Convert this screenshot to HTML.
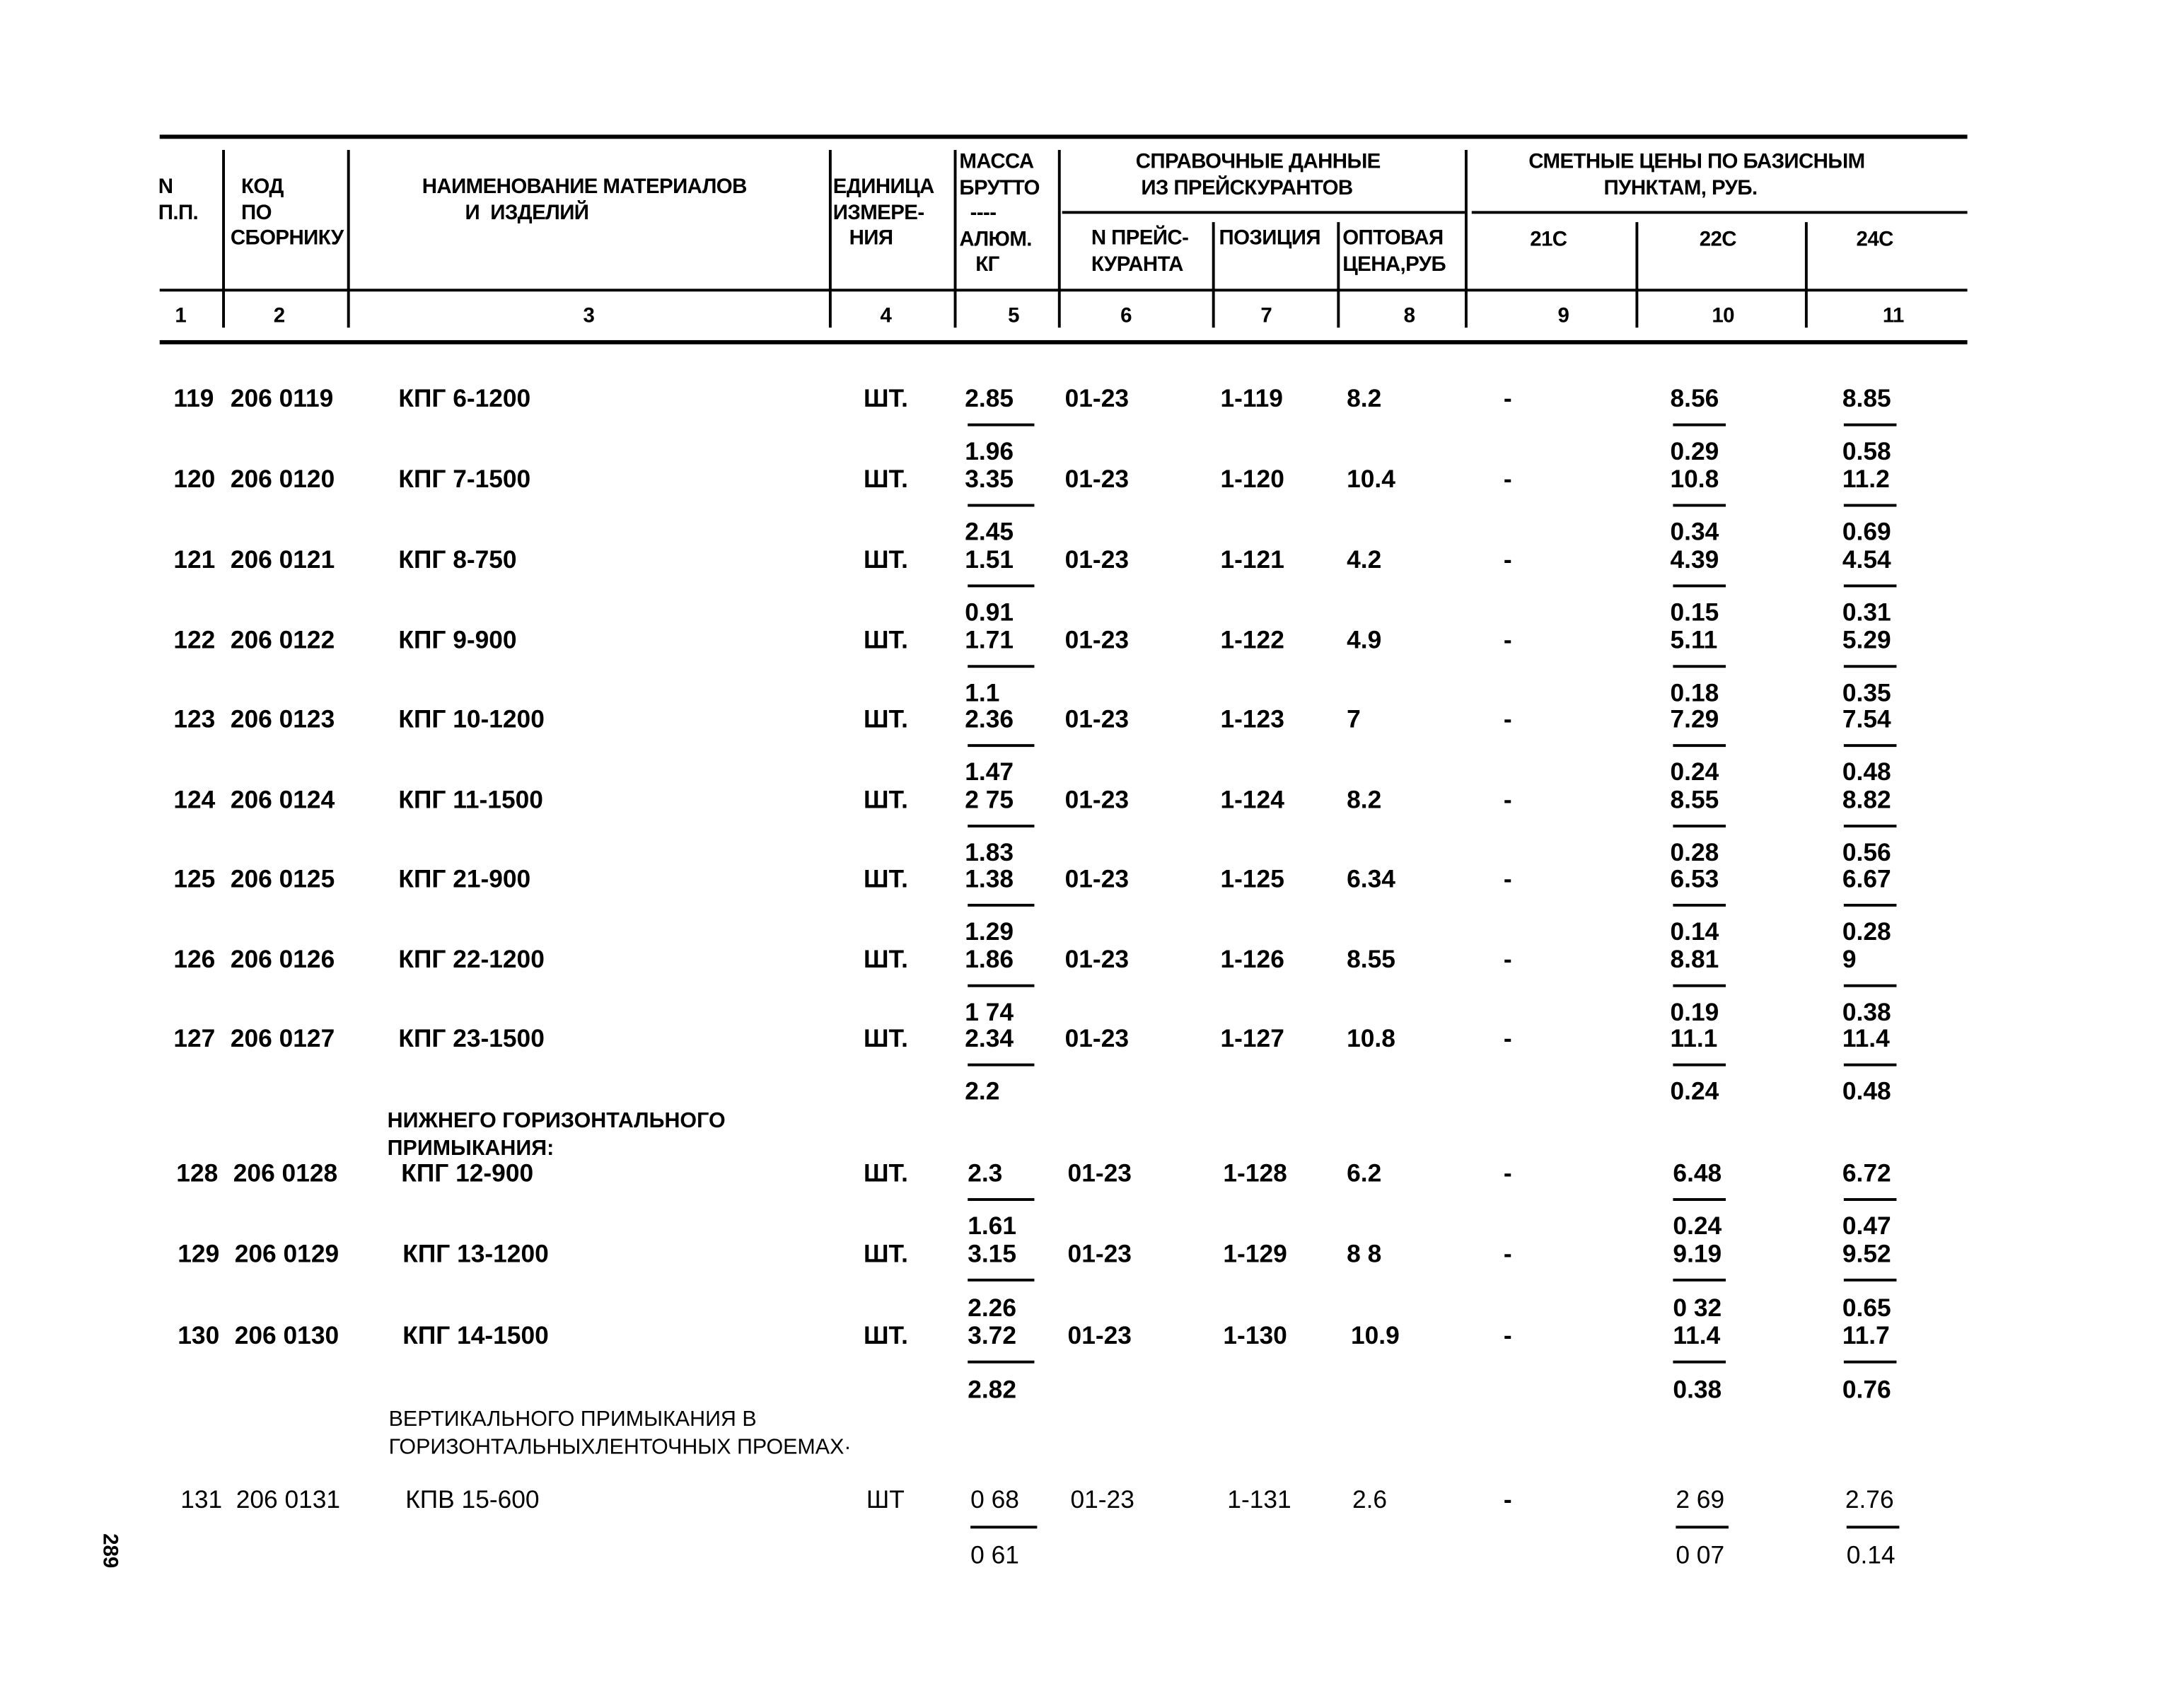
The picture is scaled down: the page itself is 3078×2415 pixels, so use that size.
<!DOCTYPE html>
<html><head><meta charset="utf-8"><style>
html,body{margin:0;padding:0;background:#fff;}
#w{position:relative;width:1570px;height:1230px;transform:scale(1.963);transform-origin:0 0;font-family:"Liberation Sans","DejaVu Sans",sans-serif;font-weight:bold;color:#000;}
.t{position:absolute;white-space:pre;font-size:18px;line-height:18px;}
.n{font-weight:normal;}
.h{position:absolute;white-space:pre;font-size:15px;line-height:18.5px;letter-spacing:-0.3px;}
.hl{position:absolute;height:2px;background:#000;}
.vl{position:absolute;width:2px;background:#000;}
.d{position:absolute;height:2px;background:#000;}
</style></head><body><div id="w">
<div class="hl" style="left:115px;top:97px;width:1302px;height:3px"></div>
<div class="hl" style="left:765px;top:152px;width:290px"></div>
<div class="hl" style="left:1060px;top:152px;width:357px"></div>
<div class="hl" style="left:115px;top:208px;width:1302px"></div>
<div class="hl" style="left:115px;top:245px;width:1302px;height:3px"></div>
<div class="vl" style="left:160px;top:108px;height:128px"></div>
<div class="vl" style="left:250px;top:108px;height:128px"></div>
<div class="vl" style="left:597px;top:108px;height:128px"></div>
<div class="vl" style="left:687px;top:108px;height:128px"></div>
<div class="vl" style="left:762px;top:108px;height:128px"></div>
<div class="vl" style="left:873px;top:160px;height:76px"></div>
<div class="vl" style="left:963px;top:160px;height:76px"></div>
<div class="vl" style="left:1055px;top:108px;height:128px"></div>
<div class="vl" style="left:1178px;top:160px;height:76px"></div>
<div class="vl" style="left:1300px;top:160px;height:76px"></div>
<div class="h" style="left:114px;top:126px">N<br>П.П.</div>
<div class="h" style="left:166px;top:126px">  КОД<br>  ПО<br>СБОРНИКУ</div>
<div class="h" style="left:304px;top:126px">НАИМЕНОВАНИЕ МАТЕРИАЛОВ<br>        И  ИЗДЕЛИЙ</div>
<div class="h" style="left:600px;top:126px">ЕДИНИЦА<br>ИЗМЕРЕ-<br>   НИЯ</div>
<div class="h" style="left:691px;top:108px">МАССА<br>БРУТТО<br>  ----<br>АЛЮМ.<br>   КГ</div>
<div class="h" style="left:818px;top:108px">СПРАВОЧНЫЕ ДАННЫЕ<br> ИЗ ПРЕЙСКУРАНТОВ</div>
<div class="h" style="left:786px;top:163px">N ПРЕЙС-<br>КУРАНТА</div>
<div class="h" style="left:878px;top:163px">ПОЗИЦИЯ</div>
<div class="h" style="left:967px;top:163px">ОПТОВАЯ<br>ЦЕНА,РУБ</div>
<div class="h" style="left:1101px;top:108px">СМЕТНЫЕ ЦЕНЫ ПО БАЗИСНЫМ<br>              ПУНКТАМ, РУБ.</div>
<div class="h" style="left:1102px;top:164px">21С</div>
<div class="h" style="left:1224px;top:164px">22С</div>
<div class="h" style="left:1337px;top:164px">24С</div>
<div class="h" style="left:126px;top:219px">1</div><div class="h" style="left:197px;top:219px">2</div><div class="h" style="left:420px;top:219px">3</div><div class="h" style="left:634px;top:219px">4</div><div class="h" style="left:726px;top:219px">5</div><div class="h" style="left:807px;top:219px">6</div><div class="h" style="left:908px;top:219px">7</div><div class="h" style="left:1011px;top:219px">8</div><div class="h" style="left:1122px;top:219px">9</div><div class="h" style="left:1233px;top:219px">10</div><div class="h" style="left:1356px;top:219px">11</div>

<div class="t" style="left:125px;top:278px">119</div><div class="t" style="left:166px;top:278px">206 0119</div><div class="t" style="left:287px;top:278px">КПГ 6-1200</div><div class="t" style="left:622px;top:278px">ШТ.</div><div class="t" style="left:695px;top:278px">2.85</div><div class="t" style="left:767px;top:278px">01-23</div><div class="t" style="left:879px;top:278px">1-119</div><div class="t" style="left:970px;top:278px">8.2</div><div class="t" style="left:1083px;top:278px">-</div><div class="t" style="left:1203px;top:278px">8.56</div><div class="t" style="left:1327px;top:278px">8.85</div>
<div class="d" style="left:697px;top:305px;width:48px"></div><div class="d" style="left:1205px;top:305px;width:38px"></div><div class="d" style="left:1328px;top:305px;width:38px"></div>
<div class="t" style="left:695px;top:316px">1.96</div><div class="t" style="left:1203px;top:316px">0.29</div><div class="t" style="left:1327px;top:316px">0.58</div>

<div class="t" style="left:125px;top:336px">120</div><div class="t" style="left:166px;top:336px">206 0120</div><div class="t" style="left:287px;top:336px">КПГ 7-1500</div><div class="t" style="left:622px;top:336px">ШТ.</div><div class="t" style="left:695px;top:336px">3.35</div><div class="t" style="left:767px;top:336px">01-23</div><div class="t" style="left:879px;top:336px">1-120</div><div class="t" style="left:970px;top:336px">10.4</div><div class="t" style="left:1083px;top:336px">-</div><div class="t" style="left:1203px;top:336px">10.8</div><div class="t" style="left:1327px;top:336px">11.2</div>
<div class="d" style="left:697px;top:363px;width:48px"></div><div class="d" style="left:1205px;top:363px;width:38px"></div><div class="d" style="left:1328px;top:363px;width:38px"></div>
<div class="t" style="left:695px;top:374px">2.45</div><div class="t" style="left:1203px;top:374px">0.34</div><div class="t" style="left:1327px;top:374px">0.69</div>

<div class="t" style="left:125px;top:394px">121</div><div class="t" style="left:166px;top:394px">206 0121</div><div class="t" style="left:287px;top:394px">КПГ 8-750</div><div class="t" style="left:622px;top:394px">ШТ.</div><div class="t" style="left:695px;top:394px">1.51</div><div class="t" style="left:767px;top:394px">01-23</div><div class="t" style="left:879px;top:394px">1-121</div><div class="t" style="left:970px;top:394px">4.2</div><div class="t" style="left:1083px;top:394px">-</div><div class="t" style="left:1203px;top:394px">4.39</div><div class="t" style="left:1327px;top:394px">4.54</div>
<div class="d" style="left:697px;top:421px;width:48px"></div><div class="d" style="left:1205px;top:421px;width:38px"></div><div class="d" style="left:1328px;top:421px;width:38px"></div>
<div class="t" style="left:695px;top:432px">0.91</div><div class="t" style="left:1203px;top:432px">0.15</div><div class="t" style="left:1327px;top:432px">0.31</div>

<div class="t" style="left:125px;top:452px">122</div><div class="t" style="left:166px;top:452px">206 0122</div><div class="t" style="left:287px;top:452px">КПГ 9-900</div><div class="t" style="left:622px;top:452px">ШТ.</div><div class="t" style="left:695px;top:452px">1.71</div><div class="t" style="left:767px;top:452px">01-23</div><div class="t" style="left:879px;top:452px">1-122</div><div class="t" style="left:970px;top:452px">4.9</div><div class="t" style="left:1083px;top:452px">-</div><div class="t" style="left:1203px;top:452px">5.11</div><div class="t" style="left:1327px;top:452px">5.29</div>
<div class="d" style="left:697px;top:479px;width:48px"></div><div class="d" style="left:1205px;top:479px;width:38px"></div><div class="d" style="left:1328px;top:479px;width:38px"></div>
<div class="t" style="left:695px;top:490px">1.1</div><div class="t" style="left:1203px;top:490px">0.18</div><div class="t" style="left:1327px;top:490px">0.35</div>

<div class="t" style="left:125px;top:509px">123</div><div class="t" style="left:166px;top:509px">206 0123</div><div class="t" style="left:287px;top:509px">КПГ 10-1200</div><div class="t" style="left:622px;top:509px">ШТ.</div><div class="t" style="left:695px;top:509px">2.36</div><div class="t" style="left:767px;top:509px">01-23</div><div class="t" style="left:879px;top:509px">1-123</div><div class="t" style="left:970px;top:509px">7</div><div class="t" style="left:1083px;top:509px">-</div><div class="t" style="left:1203px;top:509px">7.29</div><div class="t" style="left:1327px;top:509px">7.54</div>
<div class="d" style="left:697px;top:536px;width:48px"></div><div class="d" style="left:1205px;top:536px;width:38px"></div><div class="d" style="left:1328px;top:536px;width:38px"></div>
<div class="t" style="left:695px;top:547px">1.47</div><div class="t" style="left:1203px;top:547px">0.24</div><div class="t" style="left:1327px;top:547px">0.48</div>

<div class="t" style="left:125px;top:567px">124</div><div class="t" style="left:166px;top:567px">206 0124</div><div class="t" style="left:287px;top:567px">КПГ 11-1500</div><div class="t" style="left:622px;top:567px">ШТ.</div><div class="t" style="left:695px;top:567px">2 75</div><div class="t" style="left:767px;top:567px">01-23</div><div class="t" style="left:879px;top:567px">1-124</div><div class="t" style="left:970px;top:567px">8.2</div><div class="t" style="left:1083px;top:567px">-</div><div class="t" style="left:1203px;top:567px">8.55</div><div class="t" style="left:1327px;top:567px">8.82</div>
<div class="d" style="left:697px;top:594px;width:48px"></div><div class="d" style="left:1205px;top:594px;width:38px"></div><div class="d" style="left:1328px;top:594px;width:38px"></div>
<div class="t" style="left:695px;top:605px">1.83</div><div class="t" style="left:1203px;top:605px">0.28</div><div class="t" style="left:1327px;top:605px">0.56</div>

<div class="t" style="left:125px;top:624px">125</div><div class="t" style="left:166px;top:624px">206 0125</div><div class="t" style="left:287px;top:624px">КПГ 21-900</div><div class="t" style="left:622px;top:624px">ШТ.</div><div class="t" style="left:695px;top:624px">1.38</div><div class="t" style="left:767px;top:624px">01-23</div><div class="t" style="left:879px;top:624px">1-125</div><div class="t" style="left:970px;top:624px">6.34</div><div class="t" style="left:1083px;top:624px">-</div><div class="t" style="left:1203px;top:624px">6.53</div><div class="t" style="left:1327px;top:624px">6.67</div>
<div class="d" style="left:697px;top:651px;width:48px"></div><div class="d" style="left:1205px;top:651px;width:38px"></div><div class="d" style="left:1328px;top:651px;width:38px"></div>
<div class="t" style="left:695px;top:662px">1.29</div><div class="t" style="left:1203px;top:662px">0.14</div><div class="t" style="left:1327px;top:662px">0.28</div>

<div class="t" style="left:125px;top:682px">126</div><div class="t" style="left:166px;top:682px">206 0126</div><div class="t" style="left:287px;top:682px">КПГ 22-1200</div><div class="t" style="left:622px;top:682px">ШТ.</div><div class="t" style="left:695px;top:682px">1.86</div><div class="t" style="left:767px;top:682px">01-23</div><div class="t" style="left:879px;top:682px">1-126</div><div class="t" style="left:970px;top:682px">8.55</div><div class="t" style="left:1083px;top:682px">-</div><div class="t" style="left:1203px;top:682px">8.81</div><div class="t" style="left:1327px;top:682px">9</div>
<div class="d" style="left:697px;top:709px;width:48px"></div><div class="d" style="left:1205px;top:709px;width:38px"></div><div class="d" style="left:1328px;top:709px;width:38px"></div>
<div class="t" style="left:695px;top:720px">1 74</div><div class="t" style="left:1203px;top:720px">0.19</div><div class="t" style="left:1327px;top:720px">0.38</div>

<div class="t" style="left:125px;top:739px">127</div><div class="t" style="left:166px;top:739px">206 0127</div><div class="t" style="left:287px;top:739px">КПГ 23-1500</div><div class="t" style="left:622px;top:739px">ШТ.</div><div class="t" style="left:695px;top:739px">2.34</div><div class="t" style="left:767px;top:739px">01-23</div><div class="t" style="left:879px;top:739px">1-127</div><div class="t" style="left:970px;top:739px">10.8</div><div class="t" style="left:1083px;top:739px">-</div><div class="t" style="left:1203px;top:739px">11.1</div><div class="t" style="left:1327px;top:739px">11.4</div>
<div class="d" style="left:697px;top:766px;width:48px"></div><div class="d" style="left:1205px;top:766px;width:38px"></div><div class="d" style="left:1328px;top:766px;width:38px"></div>
<div class="t" style="left:695px;top:777px">2.2</div><div class="t" style="left:1203px;top:777px">0.24</div><div class="t" style="left:1327px;top:777px">0.48</div>

<div class="t" style="left:279px;top:798px;line-height:20px;font-size:15.5px">НИЖНЕГО ГОРИЗОНТАЛЬНОГО<br>ПРИМЫКАНИЯ:</div>

<div class="t" style="left:127px;top:836px">128</div><div class="t" style="left:168px;top:836px">206 0128</div><div class="t" style="left:289px;top:836px">КПГ 12-900</div><div class="t" style="left:622px;top:836px">ШТ.</div><div class="t" style="left:697px;top:836px">2.3</div><div class="t" style="left:769px;top:836px">01-23</div><div class="t" style="left:881px;top:836px">1-128</div><div class="t" style="left:970px;top:836px">6.2</div><div class="t" style="left:1083px;top:836px">-</div><div class="t" style="left:1205px;top:836px">6.48</div><div class="t" style="left:1327px;top:836px">6.72</div>
<div class="d" style="left:697px;top:863px;width:48px"></div><div class="d" style="left:1205px;top:863px;width:38px"></div><div class="d" style="left:1328px;top:863px;width:38px"></div>
<div class="t" style="left:697px;top:874px">1.61</div><div class="t" style="left:1205px;top:874px">0.24</div><div class="t" style="left:1327px;top:874px">0.47</div>

<div class="t" style="left:128px;top:894px">129</div><div class="t" style="left:169px;top:894px">206 0129</div><div class="t" style="left:290px;top:894px">КПГ 13-1200</div><div class="t" style="left:622px;top:894px">ШТ.</div><div class="t" style="left:697px;top:894px">3.15</div><div class="t" style="left:769px;top:894px">01-23</div><div class="t" style="left:881px;top:894px">1-129</div><div class="t" style="left:970px;top:894px">8 8</div><div class="t" style="left:1083px;top:894px">-</div><div class="t" style="left:1205px;top:894px">9.19</div><div class="t" style="left:1327px;top:894px">9.52</div>
<div class="d" style="left:697px;top:921px;width:48px"></div><div class="d" style="left:1205px;top:921px;width:38px"></div><div class="d" style="left:1328px;top:921px;width:38px"></div>
<div class="t" style="left:697px;top:933px">2.26</div><div class="t" style="left:1205px;top:933px">0 32</div><div class="t" style="left:1327px;top:933px">0.65</div>

<div class="t" style="left:128px;top:953px">130</div><div class="t" style="left:169px;top:953px">206 0130</div><div class="t" style="left:290px;top:953px">КПГ 14-1500</div><div class="t" style="left:622px;top:953px">ШТ.</div><div class="t" style="left:697px;top:953px">3.72</div><div class="t" style="left:769px;top:953px">01-23</div><div class="t" style="left:881px;top:953px">1-130</div><div class="t" style="left:973px;top:953px">10.9</div><div class="t" style="left:1083px;top:953px">-</div><div class="t" style="left:1205px;top:953px">11.4</div><div class="t" style="left:1327px;top:953px">11.7</div>
<div class="d" style="left:697px;top:980px;width:48px"></div><div class="d" style="left:1205px;top:980px;width:38px"></div><div class="d" style="left:1328px;top:980px;width:38px"></div>
<div class="t" style="left:697px;top:992px">2.82</div><div class="t" style="left:1205px;top:992px">0.38</div><div class="t" style="left:1327px;top:992px">0.76</div>

<div class="t n" style="left:280px;top:1013px;line-height:20px;font-size:15.5px">ВЕРТИКАЛЬНОГО ПРИМЫКАНИЯ В<br>ГОРИЗОНТАЛЬНЫХЛЕНТОЧНЫХ ПРОЕМАХ·</div>

<div class="t n" style="left:130px;top:1071px">131</div><div class="t n" style="left:170px;top:1071px">206 0131</div><div class="t n" style="left:292px;top:1071px">КПВ 15-600</div><div class="t n" style="left:624px;top:1071px">ШТ</div><div class="t n" style="left:699px;top:1071px">0 68</div><div class="t n" style="left:771px;top:1071px">01-23</div><div class="t n" style="left:884px;top:1071px">1-131</div><div class="t n" style="left:974px;top:1071px">2.6</div><div class="t" style="left:1083px;top:1071px">-</div><div class="t n" style="left:1207px;top:1071px">2 69</div><div class="t n" style="left:1329px;top:1071px">2.76</div>
<div class="d" style="left:699px;top:1099px;width:48px"></div><div class="d" style="left:1207px;top:1099px;width:38px"></div><div class="d" style="left:1330px;top:1099px;width:38px"></div>
<div class="t n" style="left:699px;top:1111px">0 61</div><div class="t n" style="left:1207px;top:1111px">0 07</div><div class="t n" style="left:1330px;top:1111px">0.14</div>

<div class="t" style="left:66px;top:1108px;transform:rotate(90deg);font-size:15px">289</div>
</div></body></html>
